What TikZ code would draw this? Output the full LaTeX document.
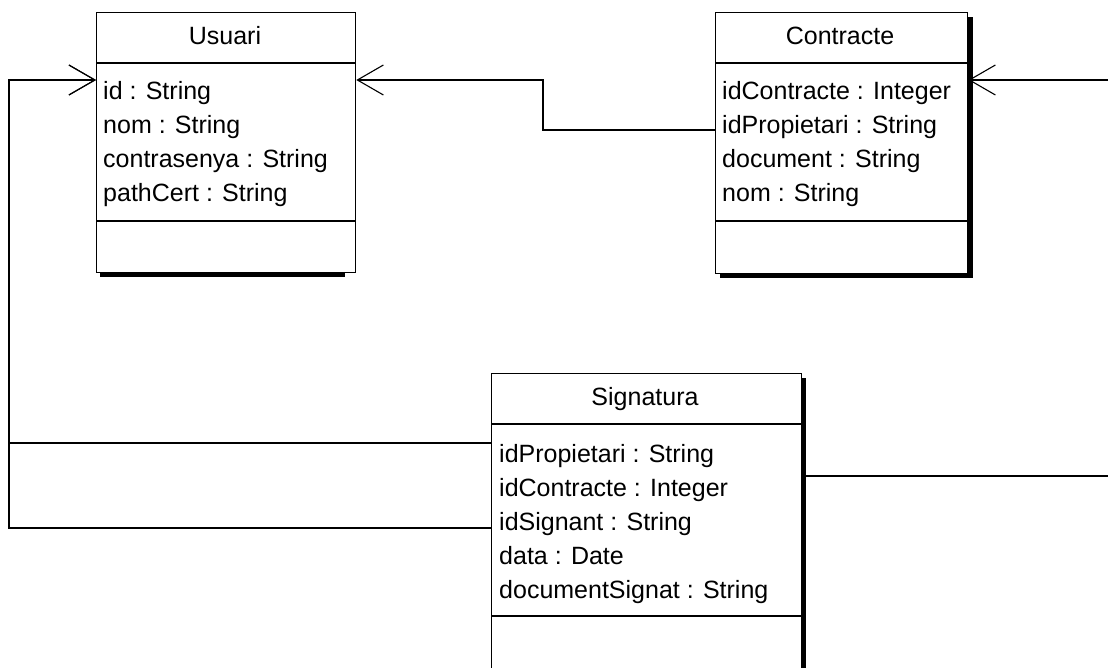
\documentclass[tikz,border=0pt]{standalone}
\usepackage{fontspec}
\setmainfont{Liberation Sans}
\usetikzlibrary{arrows.meta}
\tikzset{
  classbox/.style={draw=black, line width=1.3pt, fill=white, rectangle, inner sep=0pt, anchor=north west},
  shadowbox/.style={fill=black, draw=none},
  sepline/.style={line width=1.3pt},
  attr/.style={anchor=base west, inner sep=0pt, font=\fontsize{25}{30}\selectfont},
  title/.style={anchor=base, inner sep=0pt, font=\fontsize{25}{30}\selectfont},
  assoc/.style={line width=1.2pt, -{Straight Barb[length=26pt,width=30pt,line width=1.1pt]}},
  plainline/.style={line width=1.2pt}
}
\begin{document}
\begin{tikzpicture}[x=1pt,y=-1pt]
\clip (0,0) rectangle (1108,668);
\fill[white] (0,0) rectangle (1108,668);
% helper coordinates
\coordinate (y80) at (0,80);
\coordinate (y63) at (0,63);
\coordinate (y221) at (0,221);
\coordinate (y424) at (0,424);
\coordinate (y616) at (0,616);
\coordinate (y476) at (0,476);
\coordinate (bend1) at (543,130);
\coordinate (leftA) at (9,443);
\coordinate (leftB) at (9,528);
\coordinate (farR) at (1125,476);
% shadows
\fill[shadowbox] (100,271) rectangle (345,277);
\fill[shadowbox] (720,272) rectangle (973,278);
\fill[shadowbox] (966,17) rectangle (973,278);
\fill[shadowbox] (800,378) rectangle (806,700);
% class boxes
\node[classbox, minimum width=259pt, minimum height=260pt] (usuari) at (96,12) {};
\node[classbox, minimum width=252pt, minimum height=261pt] (cont) at (715,12) {};
\node[classbox, minimum width=310pt, minimum height=330pt] (sig) at (491,373) {};
% compartments
\draw[sepline] (usuari.west |- y63) -- (usuari.east |- y63);
\draw[sepline] (usuari.west |- y221) -- (usuari.east |- y221);
\draw[sepline] (cont.west |- y63) -- (cont.east |- y63);
\draw[sepline] (cont.west |- y221) -- (cont.east |- y221);
\draw[sepline] (sig.west |- y424) -- (sig.east |- y424);
\draw[sepline] (sig.west |- y616) -- (sig.east |- y616);
% titles
\node[title] (tU) at (225,45) {Usuari};
\node[title] (tC) at (840,45) {Contracte};
\node[title] (tS) at (645,405) {Signatura};
% Usuari attributes
\node[attr] (u1) at (103,100) {id : String};
\node[attr] (u2) at (103,134) {nom : String};
\node[attr] (u3) at (103,168) {contrasenya : String};
\node[attr] (u4) at (103,202) {pathCert : String};
% Contracte attributes
\node[attr] (c1) at (722,100) {idContracte : Integer};
\node[attr] (c2) at (722,134) {idPropietari : String};
\node[attr] (c3) at (722,168) {document : String};
\node[attr] (c4) at (722,202) {nom : String};
% Signatura attributes
\node[attr] (s1) at (499,462) {idPropietari : String};
\node[attr] (s2) at (499,496) {idContracte : Integer};
\node[attr] (s3) at (499,530) {idSignant : String};
\node[attr] (s4) at (499,564) {data : Date};
\node[attr] (s5) at (499,598) {documentSignat : String};
% connectors
\draw[assoc] (cont.west |- bend1) -- (bend1) |- (usuari.east |- y80);
\draw[assoc] (sig.west |- leftA) -- (leftA) |- (usuari.west |- y80);
\draw[assoc] (sig.west |- leftB) -- (leftB) |- (usuari.west |- y80);
\draw[assoc] (sig.east |- y476) -- (farR) |- (cont.east |- y80);
\end{tikzpicture}
\end{document}
